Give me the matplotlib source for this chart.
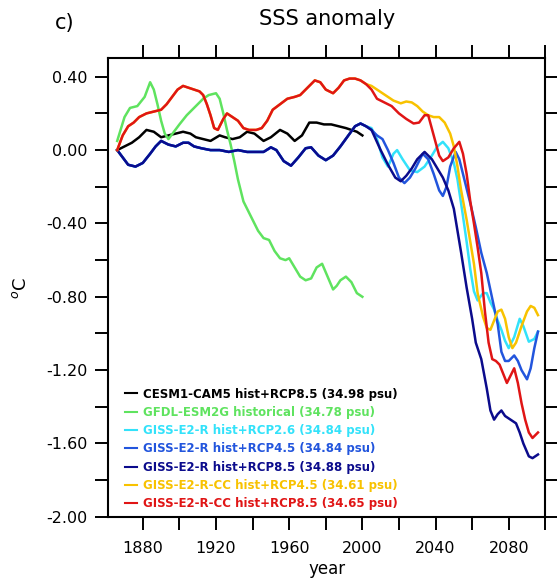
import numpy as np
import matplotlib
matplotlib.use("Agg")
import matplotlib.pyplot as plt

# ---- data (year, SSS anomaly) ----
cesm_years = [1866, 1870, 1874, 1878, 1882, 1886, 1890, 1894, 1898, 1902, 1906, 1909,
              1913, 1917, 1922, 1925, 1929, 1933, 1937, 1941, 1946, 1950, 1955, 1959,
              1963, 1967, 1971, 1975, 1979, 1983, 1987, 1991, 1994, 1997, 2000]
cesm_vals = [0.00, 0.02, 0.04, 0.07, 0.11, 0.10, 0.07, 0.08, 0.09, 0.10, 0.09, 0.07,
             0.06, 0.05, 0.08, 0.07, 0.06, 0.07, 0.10, 0.09, 0.05, 0.07, 0.11, 0.09,
             0.05, 0.08, 0.15, 0.15, 0.14, 0.14, 0.13, 0.12, 0.11, 0.10, 0.08]

gfdl_years = [1866, 1870, 1873, 1877, 1881, 1884, 1886, 1888, 1890, 1892, 1894, 1897,
              1900, 1904, 1909, 1913, 1916, 1920, 1922, 1924, 1926, 1928, 1930, 1932,
              1935, 1938, 1940, 1943, 1946, 1949, 1952, 1955, 1958, 1960, 1963, 1966,
              1969, 1972, 1975, 1978, 1981, 1984, 1986, 1988, 1991, 1994, 1997, 2000]
gfdl_vals = [0.05, 0.18, 0.23, 0.24, 0.29, 0.37, 0.33, 0.25, 0.16, 0.09, 0.06, 0.10,
             0.14, 0.19, 0.24, 0.28, 0.30, 0.31, 0.28, 0.20, 0.11, 0.03, -0.06, -0.16,
             -0.28, -0.34, -0.38, -0.44, -0.48, -0.49, -0.55, -0.59, -0.60, -0.59, -0.64,
             -0.69, -0.71, -0.70, -0.64, -0.62, -0.69, -0.76, -0.74, -0.71, -0.69, -0.72,
             -0.78, -0.80]

# GISS-E2-R historical part (shared by the three RCP runs)
giss_hist_years = [1866, 1869, 1872, 1876, 1880, 1884, 1887, 1890, 1894, 1898, 1902, 1905,
                   1908, 1912, 1917, 1922, 1927, 1932, 1937, 1942, 1946, 1950, 1953, 1957,
                   1961, 1965, 1969, 1972, 1976, 1980, 1984, 1988, 1992, 1996, 1999, 2002]
giss_hist_vals = [0.00, -0.04, -0.08, -0.09, -0.07, -0.02, 0.02, 0.05, 0.03, 0.02, 0.04, 0.04,
                  0.02, 0.01, 0.00, 0.00, -0.01, 0.00, -0.01, -0.01, -0.01, 0.015, 0.00, -0.06,
                  -0.085, -0.04, 0.01, 0.015, -0.03, -0.055, -0.03, 0.02, 0.075, 0.13, 0.145,
                  0.13]

rcp26_years = [2005, 2008, 2011, 2014, 2017, 2019, 2022, 2026, 2030, 2034, 2038, 2041,
               2044, 2047, 2050, 2052, 2055, 2057, 2059, 2061, 2063, 2066, 2068, 2070,
               2072, 2074, 2076, 2078, 2080, 2083, 2086, 2088, 2091, 2094, 2096]
rcp26_vals = [0.12, 0.06, -0.04, -0.09, -0.02, 0.00, -0.05, -0.11, -0.12, -0.09, -0.03, 0.02,
              0.045, 0.01, -0.07, -0.16, -0.36, -0.50, -0.65, -0.77, -0.82, -0.78, -0.78,
              -0.83, -0.87, -0.93, -0.98, -1.04, -1.08, -1.02, -0.92, -0.96, -1.045, -1.03,
              -0.99]

rcp45_years = [2005, 2008, 2011, 2014, 2017, 2020, 2023, 2026, 2029, 2033, 2036, 2039,
               2042, 2044, 2046, 2048, 2051, 2053, 2056, 2059, 2062, 2065, 2068, 2071,
               2074, 2076, 2078, 2080, 2083, 2085, 2087, 2090, 2092, 2094, 2096]
rcp45_vals = [0.11, 0.08, 0.06, 0.00, -0.07, -0.15, -0.18, -0.15, -0.10, -0.02, -0.05, -0.13,
              -0.22, -0.25, -0.20, -0.09, -0.01, -0.05, -0.17, -0.29, -0.42, -0.56, -0.67,
              -0.81, -0.95, -1.10, -1.15, -1.15, -1.12, -1.15, -1.20, -1.25, -1.19, -1.08,
              -0.99]

rcp85_years = [2005, 2010, 2014, 2018, 2021, 2024, 2027, 2030, 2034, 2038, 2041, 2044,
               2047, 2050, 2054, 2057, 2060, 2062, 2065, 2068, 2070, 2072, 2074, 2076,
               2078, 2081, 2084, 2086, 2088, 2091, 2093, 2096]
rcp85_vals = [0.11, 0.00, -0.08, -0.15, -0.17, -0.14, -0.10, -0.05, -0.01, -0.05, -0.10,
              -0.15, -0.22, -0.32, -0.56, -0.75, -0.92, -1.05, -1.14, -1.30, -1.42, -1.47,
              -1.44, -1.42, -1.45, -1.47, -1.49, -1.54, -1.60, -1.67, -1.68, -1.66]

# GISS-E2-R-CC historical part (shared by the two CC runs)
cc_hist_years = [1866, 1869, 1872, 1875, 1878, 1882, 1886, 1890, 1893, 1896, 1899, 1902,
                 1905, 1908, 1911, 1913, 1915, 1917, 1919, 1921, 1924, 1926, 1929, 1932,
                 1935, 1938, 1942, 1945, 1948, 1951, 1955, 1959, 1963, 1966, 1970, 1974,
                 1977, 1980, 1984, 1987, 1990, 1993, 1996, 1999, 2002]
cc_hist_vals = [0.00, 0.08, 0.13, 0.15, 0.18, 0.20, 0.21, 0.22, 0.25, 0.29, 0.33, 0.35,
                0.34, 0.33, 0.32, 0.30, 0.25, 0.19, 0.12, 0.11, 0.17, 0.20, 0.18, 0.16,
                0.12, 0.11, 0.11, 0.12, 0.16, 0.22, 0.25, 0.28, 0.29, 0.30, 0.34, 0.38,
                0.37, 0.33, 0.31, 0.34, 0.38, 0.39, 0.39, 0.38, 0.36]

cc45_years = [2005, 2008, 2011, 2014, 2017, 2021, 2024, 2027, 2030, 2033, 2036, 2039,
              2042, 2045, 2048, 2050, 2052, 2054, 2057, 2059, 2061, 2063, 2066, 2068,
              2070, 2072, 2074, 2076, 2078, 2080, 2082, 2084, 2087, 2090, 2092, 2094, 2096]
cc45_vals = [0.35, 0.33, 0.31, 0.29, 0.27, 0.255, 0.265, 0.26, 0.24, 0.21, 0.19, 0.18,
             0.18, 0.15, 0.09, 0.02, -0.09, -0.22, -0.38, -0.50, -0.62, -0.78, -0.91,
             -0.97, -0.98, -0.93, -0.88, -0.87, -0.92, -1.02, -1.08, -1.05, -0.96, -0.88,
             -0.85, -0.86, -0.90]

cc85_years = [2005, 2008, 2012, 2016, 2020, 2024, 2028, 2031, 2034, 2036, 2039, 2042,
              2044, 2047, 2050, 2053, 2055, 2057, 2059, 2061, 2063, 2065, 2067, 2069,
              2071, 2073, 2075, 2077, 2079, 2081, 2083, 2085, 2087, 2089, 2091, 2093, 2096]
cc85_vals = [0.33, 0.28, 0.26, 0.24, 0.20, 0.17, 0.145, 0.15, 0.19, 0.19, 0.08, -0.03,
             -0.06, -0.04, 0.01, 0.045, -0.02, -0.13, -0.28, -0.40, -0.53, -0.67, -0.88,
             -1.05, -1.14, -1.15, -1.17, -1.22, -1.27, -1.23, -1.19, -1.27, -1.38, -1.47,
             -1.54, -1.57, -1.54]

labels = ["CESM1-CAM5 hist+RCP8.5 (34.98 psu)",
          "GFDL-ESM2G historical (34.78 psu)",
          "GISS-E2-R hist+RCP2.6 (34.84 psu)",
          "GISS-E2-R hist+RCP4.5 (34.84 psu)",
          "GISS-E2-R hist+RCP8.5 (34.88 psu)",
          "GISS-E2-R-CC hist+RCP4.5 (34.61 psu)",
          "GISS-E2-R-CC hist+RCP8.5 (34.65 psu)"]
colors = ["#000000", "#5fe35f", "#33e2fa", "#2255dd", "#0b0b8c", "#f8c200", "#e01515"]

yticks = [-2.0, -1.8, -1.6, -1.4, -1.2, -1.0, -0.8, -0.6, -0.4, -0.2, 0.0, 0.2, 0.4]
ytick_labels = ["-2.00", "", "-1.60", "", "-1.20", "", "-0.80", "", "-0.40", "", "0.00", "", "0.40"]
xticks = [1880, 1900, 1920, 1940, 1960, 1980, 2000, 2020, 2040, 2060, 2080, 2100]
xtick_labels = ["1880", "", "1920", "", "1960", "", "2000", "", "2040", "", "2080", ""]

series = [
    (cesm_years, cesm_vals),
    (gfdl_years, gfdl_vals),
    (giss_hist_years + rcp26_years, giss_hist_vals + rcp26_vals),
    (giss_hist_years + rcp45_years, giss_hist_vals + rcp45_vals),
    (giss_hist_years + rcp85_years, giss_hist_vals + rcp85_vals),
    (cc_hist_years + cc45_years, cc_hist_vals + cc45_vals),
    (cc_hist_years + cc85_years, cc_hist_vals + cc85_vals),
]

fig = plt.figure(figsize=(5.57, 5.84), dpi=100)
ax = fig.add_axes([0.194, 0.115, 0.785, 0.785])

for (x, y), c, lab in zip(series, colors, labels):
    ax.plot(x, y, color=c, lw=1.8, label=lab, solid_joinstyle="round")

ax.set_xlim(1861, 2100)
ax.set_ylim(-2.0, 0.5)
ax.set_xticks(xticks)
ax.set_xticklabels(xtick_labels)
ax.set_yticks(yticks)
ax.set_yticklabels(ytick_labels)
ax.tick_params(direction="out", length=9.5, width=1.4, labelsize=11.5,
               top=True, right=True, pad=5)
ax.tick_params(axis="x", pad=8)
for sp in ax.spines.values():
    sp.set_linewidth(1.5)

ax.set_xlabel("year", fontsize=12, labelpad=3)
ax.set_ylabel("$^{o}$C", fontsize=13, labelpad=12)
ax.set_title("SSS anomaly", fontsize=15, pad=24)
fig.text(0.099, 0.961, "c)", fontsize=15, va="center", ha="left")

leg = ax.legend(loc="lower left", bbox_to_anchor=(0.039, 0.014), frameon=False,
                borderpad=0, borderaxespad=0, handlelength=1.0, handletextpad=0.5,
                labelspacing=0.45, labelcolor="linecolor",
                prop={"size": 8.5, "weight": "bold"})
for h in leg.get_lines():
    h.set_linewidth(1.5)

fig.savefig("out.png", dpi=100)
